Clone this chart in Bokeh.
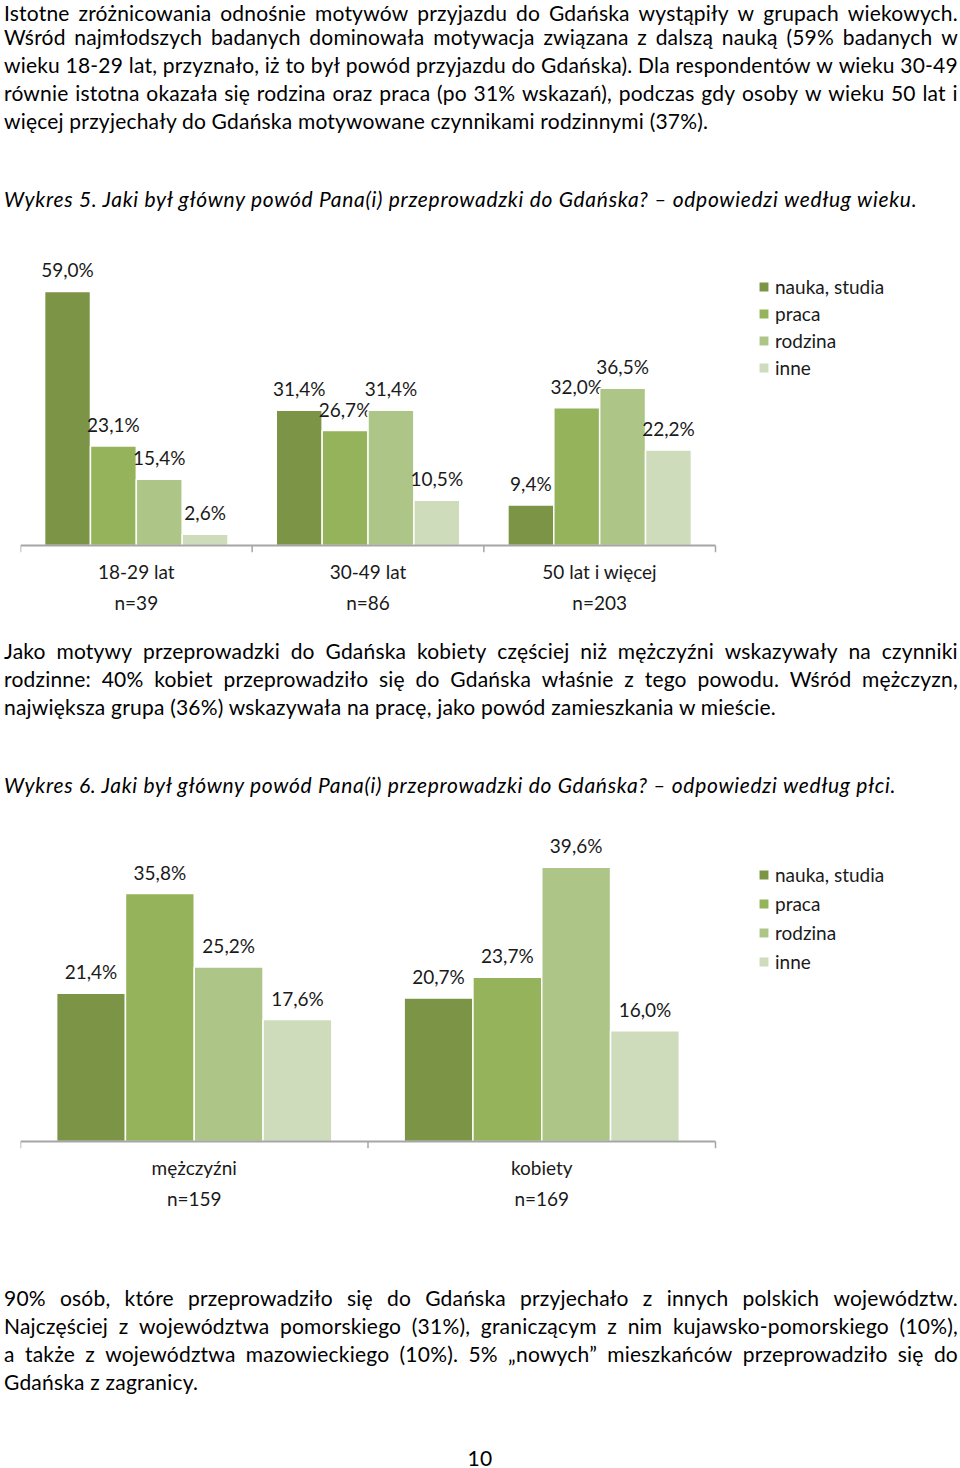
from bokeh.plotting import figure
from bokeh.models import (Range1d, LinearAxis, FixedTicker,
                          Legend, LegendItem, Div, ColumnDataSource)
from bokeh.transform import dodge
from bokeh.layouts import column
from bokeh.embed import file_html
from bokeh.resources import INLINE
from bokeh.core.properties import value

# ---------------- data ----------------
reasons = ["nauka, studia", "praca", "rodzina", "inne"]
colors = ["#7B9446", "#95B35A", "#ADC688", "#CFDCBB"]

age_groups = ["18-29 lat", "30-49 lat", "50 lat i więcej"]
age_n = ["n=39", "n=86", "n=203"]
age_nauka = [59.0, 31.4, 9.4]
age_praca = [23.1, 26.7, 32.0]
age_rodzina = [15.4, 31.4, 36.5]
age_inne = [2.6, 10.5, 22.2]

sex_groups = ["mężczyźni", "kobiety"]
sex_n = ["n=159", "n=169"]
sex_nauka = [21.4, 20.7]
sex_praca = [35.8, 23.7]
sex_rodzina = [25.2, 39.6]
sex_inne = [17.6, 16.0]

FONT = "Lato"
AXIS_GREY = "#A6A6A6"


def fmt(v):
    return ("%.1f" % v).replace(".", ",") + "%"


def make_chart(groups, ns, series, ymax, height, top_border, bottom_border, legend_loc, legend_spacing):
    ng = len(groups)
    centers = [i + 0.5 for i in range(ng)]
    frame_h = height - top_border - bottom_border
    tick_px = 7
    px_per_unit = (frame_h - tick_px) / ymax
    y_start = -tick_px / px_per_unit
    # groups take 695 px of the 940 px wide frame; the rest holds the legend
    x_end = ng * 940.0 / 695.0
    p = figure(x_range=Range1d(0, x_end), y_range=Range1d(y_start, ymax),
               width=960, height=height, output_backend="svg", toolbar_location=None,
               x_axis_location=None, y_axis_location=None,
               min_border_left=20, min_border_right=0,
               min_border_top=top_border, min_border_bottom=bottom_border,
               outline_line_color=None, background_fill_color="white", border_fill_color="white")
    p.xgrid.visible = False
    p.ygrid.visible = False
    p.margin = 0

    slot = 0.198
    renderers = []
    for i, (name, vals) in enumerate(zip(reasons, series)):
        off = (i - 1.5) * slot
        src = ColumnDataSource(dict(c=centers, v=vals, lab=[fmt(v) for v in vals]))
        r = p.vbar(x=dodge("c", off), top="v", bottom=0, width=slot, source=src,
                   fill_color=colors[i], line_color="white", line_width=1.5)
        renderers.append(r)
        p.text(x=dodge("c", off), y="v", text="lab", source=src,
               text_align="center", text_baseline="bottom", y_offset=-10,
               text_font=value(FONT), text_font_size="19px", text_color="#1a1a1a")

    # category axis line (baseline) with ticks at group boundaries
    bounds = list(range(ng + 1))
    p.segment(x0=[0], y0=[0], x1=[ng], y1=[0], line_color=AXIS_GREY, line_width=2)
    p.segment(x0=bounds, y0=[0] * len(bounds), x1=bounds, y1=[y_start] * len(bounds),
              line_color=AXIS_GREY, line_width=1.5)

    cat_axis = LinearAxis(ticker=FixedTicker(ticks=centers), axis_line_color=None,
                          major_tick_line_color=None, minor_tick_line_color=None,
                          major_tick_in=0, major_tick_out=0, minor_tick_in=0, minor_tick_out=0,
                          major_label_overrides={c: g for c, g in zip(centers, groups)},
                          major_label_text_font=FONT, major_label_text_font_size="19px",
                          major_label_text_color="#1a1a1a", major_label_standoff=7)
    p.add_layout(cat_axis, "below")

    n_axis = LinearAxis(ticker=FixedTicker(ticks=centers), axis_line_color=None,
                        major_tick_line_color=None, minor_tick_line_color=None,
                        major_tick_in=0, major_tick_out=0, minor_tick_in=0, minor_tick_out=0,
                        major_label_overrides={c: n for c, n in zip(centers, ns)},
                        major_label_text_font=FONT, major_label_text_font_size="19px",
                        major_label_text_color="#1a1a1a", major_label_standoff=5)
    p.add_layout(n_axis, "below")

    legend = Legend(items=[LegendItem(label=n, renderers=[r]) for n, r in zip(reasons, renderers)],
                    location=legend_loc, orientation="vertical",
                    label_text_font=FONT, label_text_font_size="19px", label_text_color="#1a1a1a",
                    glyph_width=13, glyph_height=13, label_height=20, label_standoff=5,
                    spacing=legend_spacing, padding=0, margin=0,
                    border_line_color=None, background_fill_alpha=0)
    p.add_layout(legend, "center")
    return p


def jline(text, center_y, justify=True, italic=False, left=4, width=954, size=21, spacing=0.2, center=False):
    style = ("position:absolute; top:%dpx; left:%dpx; width:%dpx; height:18px; line-height:18px; "
             "font-family:'%s'; font-size:%spx; letter-spacing:%spx; color:#000; white-space:nowrap;"
             % (center_y - 9, left, width, FONT, size, spacing))
    if italic:
        style += " font-style:italic;"
    if justify:
        style += " display:flex; justify-content:space-between;"
        words = "".join("<span>%s</span>" % w for w in text.split(" "))
        return '<div style="%s">%s</div>' % (style, words)
    if center:
        style += " text-align:center;"
    return '<div style="%s">%s</div>' % (style, text)


def block(lines, height):
    inner = "".join(lines)
    return Div(text='<div style="position:relative; width:960px; height:%dpx; overflow:visible;">%s</div>' % (height, inner),
               width=960, height=height, margin=0)


para1 = [
    "Istotne zróżnicowania odnośnie motywów przyjazdu do Gdańska wystąpiły w grupach wiekowych.",
    "Wśród najmłodszych badanych dominowała motywacja związana z dalszą nauką (59% badanych w",
    "wieku 18-29 lat, przyznało, iż to był powód przyjazdu do Gdańska). Dla respondentów w wieku 30-49",
    "równie istotna okazała się rodzina oraz praca (po 31% wskazań), podczas gdy osoby w wieku 50 lat i",
    "więcej przyjechały do Gdańska motywowane czynnikami rodzinnymi (37%).",
]
caption1 = "Wykres 5. Jaki był główny powód Pana(i) przeprowadzki do Gdańska? – odpowiedzi według wieku."
para2 = [
    "Jako motywy przeprowadzki do Gdańska kobiety częściej niż mężczyźni wskazywały na czynniki",
    "rodzinne: 40% kobiet przeprowadziło się do Gdańska właśnie z tego powodu. Wśród mężczyzn,",
    "największa grupa (36%) wskazywała na pracę, jako powód zamieszkania w mieście.",
]
caption2 = "Wykres 6. Jaki był główny powód Pana(i) przeprowadzki do Gdańska? – odpowiedzi według płci."
para3 = [
    "90% osób, które przeprowadziło się do Gdańska przyjechało z innych polskich województw.",
    "Najczęściej z województwa pomorskiego (31%), graniczącym z nim kujawsko-pomorskiego (10%),",
    "a także z województwa mazowieckiego (10%). 5% „nowych” mieszkańców przeprowadziło się do",
    "Gdańska z zagranicy.",
]
page_no = "10"

# top block: 0-240 (first line nudged down so its text box stays inside the page)
centers_a = [13, 37, 65, 93, 121]
lines_a = [jline(t, c, justify=(i < len(para1) - 1)) for i, (t, c) in enumerate(zip(para1, centers_a))]
lines_a.append(jline(caption1, 199, justify=False, italic=True, spacing=0.7))
div_a = block(lines_a, 240)

fig1 = make_chart(age_groups, age_n, [age_nauka, age_praca, age_rodzina, age_inne],
                  68.5, 385, 10, 73, (737, 173), 4)

# middle block: 625-825
lines_b = [jline(t, 26 + 28 * i, justify=(i < len(para2) - 1)) for i, t in enumerate(para2)]
lines_b.append(jline(caption2, 160, justify=False, italic=True, spacing=0.7))
div_b = block(lines_b, 200)

fig2 = make_chart(sex_groups, sex_n, [sex_nauka, sex_praca, sex_rodzina, sex_inne],
                  44.9, 405, 5, 82, (737, 175), 6)

# bottom block: 1230-1468
lines_c = [jline(t, 68 + 28 * i, justify=(i < len(para3) - 1)) for i, t in enumerate(para3)]
lines_c.append(jline(page_no, 228, justify=False, left=0, width=960, center=True))
div_c = block(lines_c, 238)

layout = column(div_a, fig1, div_b, fig2, div_c, spacing=0, margin=0)

open("out.html", "w").write(file_html(layout, INLINE))
